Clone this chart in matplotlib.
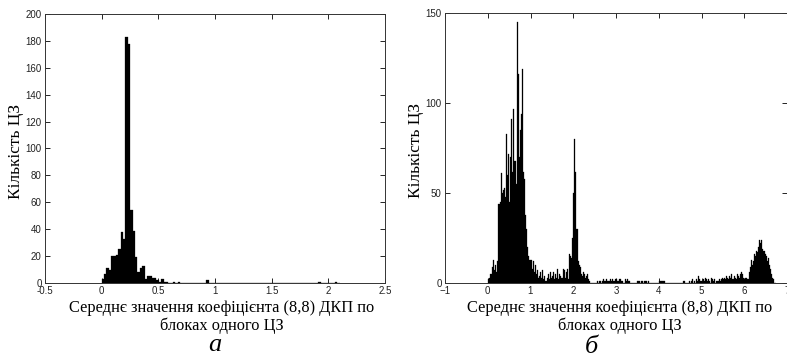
import matplotlib
matplotlib.use("Agg")
import matplotlib.pyplot as plt
import numpy as np

# ---------------- data ----------------
# (a) histogram: bin width and counts (bins start at 0)
a_bin_width = 0.021
a_counts = [3, 7, 11, 10, 20, 20, 21, 25, 38, 33,
            183, 178, 54, 39, 19, 8, 11, 13, 3, 5,
            5, 4, 4, 2, 1, 3, 1, 1, 0, 0,
            1, 0, 1, 0, 0, 0, 0, 0, 0, 0,
            0, 0, 0, 0, 2, 0, 0, 0, 0, 0,
            0, 0, 0, 0, 0, 0, 0, 0, 0, 0,
            0, 0, 0, 0, 0, 0, 0, 0, 0, 0,
            0, 0, 0, 0, 0, 0, 0, 0, 0, 0,
            0, 0, 0, 0, 0, 0, 0, 0, 0, 0,
            0, 1, 0, 0, 0, 0, 0, 0, 1, 0]

# (b) histogram: bin width and counts (bins start at 0)
b_bin_width = 0.025
b_counts = [2, 3, 5, 5, 9, 13, 7, 10, 6, 12,
            44, 45, 61, 50, 52, 53, 48, 83, 60, 72,
            45, 70, 91, 62, 97, 68, 55, 145, 116, 70,
            85, 94, 119, 62, 58, 38, 30, 20, 15, 13,
            13, 8, 12, 6, 10, 5, 7, 3, 4, 6,
            3, 7, 2, 4, 1, 3, 5, 2, 6, 3,
            4, 6, 2, 5, 3, 8, 2, 5, 4, 3,
            8, 7, 3, 6, 8, 2, 16, 15, 14, 25,
            50, 80, 62, 30, 12, 10, 9, 5, 4, 6,
            5, 3, 4, 5, 2, 1, 0, 0, 0, 0,
            0, 0, 1, 0, 1, 1, 0, 1, 2, 1,
            1, 2, 1, 1, 2, 1, 2, 1, 1, 2,
            2, 1, 1, 2, 2, 1, 1, 0, 2, 1,
            2, 1, 1, 0, 0, 0, 0, 0, 0, 0,
            1, 1, 0, 1, 1, 0, 1, 1, 1, 0,
            1, 0, 0, 0, 0, 0, 0, 0, 0, 0,
            1, 1, 1, 1, 1, 1, 0, 0, 0, 0,
            0, 0, 0, 0, 0, 0, 0, 0, 0, 0,
            0, 0, 0, 1, 1, 0, 0, 0, 1, 0,
            1, 2, 0, 1, 0, 2, 1, 4, 2, 1,
            1, 2, 1, 3, 2, 1, 2, 1, 0, 3,
            2, 1, 2, 0, 1, 1, 2, 1, 2, 3,
            2, 3, 2, 4, 3, 2, 4, 3, 5, 2,
            4, 3, 2, 5, 4, 3, 5, 6, 5, 3,
            2, 3, 3, 2, 6, 9, 13, 10, 12, 16,
            15, 18, 17, 20, 24, 22, 24, 19, 18, 16,
            15, 12, 14, 10, 8, 5, 3, 2, 0, 0]

a_xticks = [-0.5, 0, 0.5, 1, 1.5, 2, 2.5]
a_xticklabels = ["-0.5", "0", "0.5", "1", "1.5", "2", "2.5"]
a_yticks = [0, 20, 40, 60, 80, 100, 120, 140, 160, 180, 200]
b_xticks = [-1, 0, 1, 2, 3, 4, 5, 6, 7]
b_yticks = [0, 50, 100, 150]

ylabel_text = "Кількість ЦЗ"
xlabel_text = "Середнє значення коефіцієнта (8,8) ДКП по\nблоках одного ЦЗ"
captions = ["а", "б"]

# ---------------- figure ----------------
W, H = 787, 362
fig = plt.figure(figsize=(W / 100, H / 100), dpi=100)
fig.patch.set_facecolor("white")

def px_axes(x0, y_top, x1, y_bot):
    return fig.add_axes([x0 / W, 1 - y_bot / H, (x1 - x0) / W, (y_bot - y_top) / H])

axA = px_axes(45, 14, 385, 283)
axB = px_axes(445, 13.3, 787, 283)

serif = "Liberation Serif"
sans = "Liberation Sans"

def style(ax):
    ax.tick_params(direction="in", length=3.5, width=0.6, top=True, right=True,
                   labelsize=7, pad=2.5, colors="black")
    for lab in ax.get_xticklabels() + ax.get_yticklabels():
        lab.set_fontfamily(sans)
        lab.set_color("#222222")
    for s in ax.spines.values():
        s.set_linewidth(0.7)
        s.set_color("#333333")

# (a)
a_edges = np.arange(len(a_counts)) * a_bin_width
axA.bar(a_edges, a_counts, width=a_bin_width, align="edge", color="black",
        edgecolor="black", linewidth=0.2)
axA.set_xlim(-0.5, 2.5)
axA.set_ylim(0, 200)
axA.set_xticks(a_xticks)
axA.set_xticklabels(a_xticklabels)
axA.set_yticks(a_yticks)
style(axA)

# (b)
b_edges = np.arange(len(b_counts)) * b_bin_width
axB.bar(b_edges, b_counts, width=b_bin_width, align="edge", color="black",
        edgecolor="black", linewidth=0.2)
axB.set_xlim(-1, 7)
axB.set_ylim(0, 150)
axB.set_xticks(b_xticks)
axB.set_yticks(b_yticks)
style(axB)

for ax, xc, yl_x in [(axA, 0.52, -0.062), (axB, 0.512, -0.061)]:
    ax.set_xlabel(xlabel_text, fontfamily=serif, fontsize=11.8,
                  linespacing=1.15, multialignment="center")
    ax.xaxis.set_label_coords(xc, -0.062)
    ax.set_ylabel(ylabel_text, fontfamily=serif, fontsize=12.5)
    ax.yaxis.set_label_coords(yl_x, 0.49)

fig.text(215 / W, 1 - 345 / H, captions[0], fontfamily=serif, style="italic",
         fontsize=19, ha="center", va="center")
fig.text(591 / W, 1 - 347 / H, captions[1], fontfamily=serif, style="italic",
         fontsize=19, ha="center", va="center")

fig.savefig("out.png", dpi=100, facecolor="white")
